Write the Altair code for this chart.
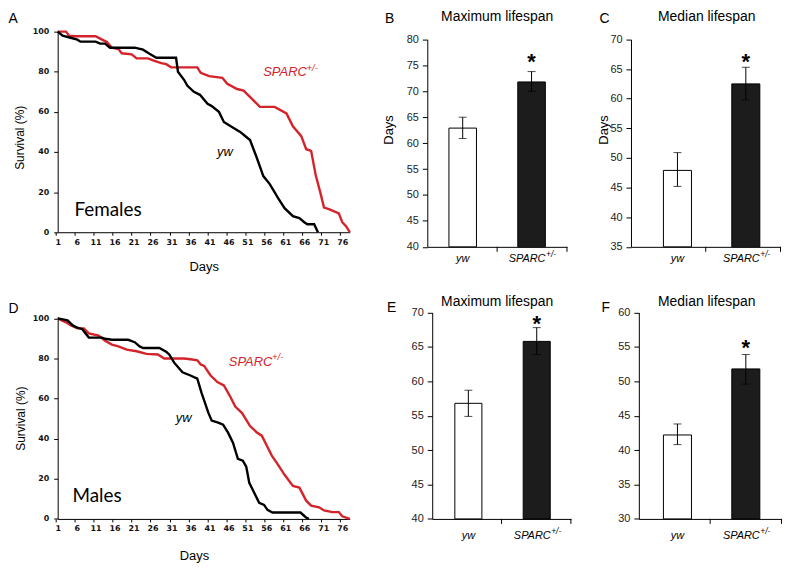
import altair as alt
import pandas as pd

# ---------------- data ----------------
GROUPS = ["yw", "SPARC"]
SUPER = ["", "+/-"]

DAY_TICKS = [1, 6, 11, 16, 21, 26, 31, 36, 41, 46, 51, 56, 61, 66, 71, 76]
SURV_TICKS = [0, 20, 40, 60, 80, 100]

# Females survival
F_YW_DAY = [1, 2.3, 4.9, 6.2, 7, 11, 12.2, 13.5, 14.8, 21.3, 23.5, 25.2, 27, 32.2, 32.7, 34.3, 35.2, 36.9, 38.5,
            40.5, 41.5, 43.5, 44.8, 46.5, 49.1, 50.4, 51.7, 53.5, 55.2, 56.9, 59.1, 60.8, 63, 64.7, 66, 66.8, 68.6, 69.6]
F_YW_SURV = [100, 98, 96.7, 96, 95, 95, 94, 94, 92, 92, 91, 89, 87, 87, 80, 76, 73, 70, 68.5,
             64, 63, 60, 55, 53, 50, 48, 46, 37, 28, 24, 17, 12, 8, 7, 5, 4, 4, 0]
F_SP_DAY = [1, 3.2, 4, 5.8, 11, 12.7, 14, 15.3, 17, 17.9, 20.5, 21.8, 24.8, 26.5, 28.3, 29.6, 30.9, 37.8, 38.7, 40.9,
            44.4, 45.7, 48.3, 50, 52.2, 54.3, 58.2, 61.3, 63, 65.2, 66.5, 67.8, 69, 70.2, 71.2, 72.5, 75.1, 76, 77, 78]
F_SP_SURV = [100, 100, 98, 97.7, 97.7, 96, 94.8, 92, 91.3, 89.2, 88.7, 86.7, 86.7, 85.4, 84.3, 83.8, 82.2, 82.2, 79.5, 77.8,
             77, 74, 71.4, 70.6, 66.5, 62.5, 62.5, 59.2, 52.8, 47.9, 41.4, 40.6, 28.5, 20, 12.3, 11.5, 9.4, 5, 3, 0]

# Males survival
M_YW_DAY = [1, 3.6, 4.9, 6.2, 7.5, 9.2, 12.7, 13.5, 15.3, 19.6, 21.3, 22.6, 23.5, 27.8, 29.6, 30.4, 31.7, 33.9, 36, 37.8,
            38.9, 39.8, 40.7, 41.6, 43.3, 44.6, 45.9, 47.2, 48.5, 49.8, 50.7, 51.5, 52.8, 54.1, 55.4, 56.3, 57.6, 65, 66.3, 67.2]
M_YW_SURV = [100, 99, 96.6, 95.3, 94.6, 90.4, 90.4, 89.8, 89.3, 89.3, 88.1, 86, 85.2, 85.2, 83.3, 82, 77.9, 73.1, 71.5, 69.9,
             63, 58, 53, 49, 48, 47, 43, 38, 30, 29, 26, 18, 13, 8, 7, 4.5, 3.2, 3.2, 1, 0]
M_SP_DAY = [1, 3.2, 4.5, 6.2, 7.9, 9.2, 11.8, 13.5, 15.3, 17, 19.2, 21.8, 24.4, 27.4, 29.1, 34.3, 36, 37.8, 38.7, 39.6,
            41.3, 43.1, 44.8, 46.5, 47.8, 49.6, 51.7, 53.5, 54.8, 56.1, 57.4, 59.1, 60.8, 63, 64.7, 66.5, 67.8, 69.9, 71.2,
            73.4, 75.1, 76, 78]
M_SP_SURV = [100, 98, 96.4, 95, 95, 92.5, 91.4, 88.8, 86.9, 86, 84.4, 83.6, 82.3, 82, 80, 80, 79.6, 79.1, 77, 76.3,
             71.5, 68.2, 66.6, 60.9, 56, 52.8, 46.3, 43.1, 41.5, 36.6, 31.7, 26.9, 22, 16.4, 15.6, 9.1, 6.6, 5.8, 4.2,
             3.4, 3.4, 1.3, 0]

# Lifespan bars (mean, lower error, upper error), order = GROUPS
B_MEAN, B_LO, B_HI = [62.9, 71.8], [60.9, 70.0], [65.0, 73.8]
C_MEAN, C_LO, C_HI = [47.9, 62.5], [45.2, 59.8], [50.9, 65.3]
E_MEAN, E_LO, E_HI = [56.8, 65.8], [54.9, 63.9], [58.7, 67.8]
F_MEAN, F_LO, F_HI = [42.2, 51.8], [40.8, 49.6], [43.8, 53.9]
B_TICKS = [40, 45, 50, 55, 60, 65, 70, 75, 80]
C_TICKS = [35, 40, 45, 50, 55, 60, 65, 70]
E_TICKS = [40, 45, 50, 55, 60, 65, 70]
F_TICKS = [30, 35, 40, 45, 50, 55, 60]

# ---------------- layout (reference pixel geometry -> page) ----------------
SX, SY = 0.99, 0.98


def PX(x):
    return 8 + (x - 3) * SX


def PY(y):
    return 8 + (y - 2) * SY


SP = 10
AX = {"A": (53, 24, 350, 230), "B": (428, 32, 570, 245), "C": (635, 32, 787, 245),
      "D": (53, 318, 350, 524), "E": (433, 312, 574, 524), "F": (643, 312, 788, 524)}
BARS = {"B": (450, 479, 521, 548), "C": (668, 697, 738, 766),
        "E": (456, 484, 526, 553), "F": (668, 697, 738, 766)}
ROWS = ["ABC", "DEF"]

# uniform grid: every column has one x origin and width, every row one y origin and height
COLX = [PX(min(AX[r[c]][0] for r in ROWS)) for c in range(3)]
COLW = [COLX[1] - COLX[0] - SP, COLX[2] - COLX[1] - SP,
        max(PX(AX[r[2]][2]) for r in ROWS) - COLX[2]]
ROWY, ROWH = [], []
for r in ROWS:
    y0 = PY(min(AX[k][1] for k in r)) if not ROWY else ROWY[-1] + ROWH[-1] + SP
    ROWY.append(y0)
    ROWH.append(PY(max(AX[k][3] for k in r)) - y0)

ORG, VW, VH = {}, {}, {}
for ri, r in enumerate(ROWS):
    for ci, k in enumerate(r):
        ORG[k] = (COLX[ci], ROWY[ri])
        VW[k] = COLW[ci]
        VH[k] = ROWH[ri]

RED = "#d5232a"
FONT = "Liberation Sans"
ONE = pd.DataFrame({"k": [0]})
NOVIEW = alt.ViewBackground(stroke="transparent", strokeWidth=0)


def txt(panel, s, x, y, size, align="left", baseline="alphabetic", color="black",
        style="normal", weight="normal", font=FONT, angle=None):
    ox, oy = ORG[panel]
    kw = dict(text=s, fontSize=size, align=align, baseline=baseline, color=color,
              fontStyle=style, fontWeight=weight, font=font)
    if angle is not None:
        kw["angle"] = angle
    return alt.Chart(ONE).mark_text(**kw).encode(x=alt.value(PX(x) - ox), y=alt.value(PY(y) - oy))


def geom(panel):
    """plot-area box of a panel inside its view: left, right, top, bottom"""
    ox, oy = ORG[panel]
    x1, y1, x2, y2 = AX[panel]
    return PX(x1) - ox, PX(x2) - ox, PY(y1) - oy, PY(y2) - oy


def survival(panel, yw_d, yw_s, sp_d, sp_s, texts):
    L, R, T, B = geom(panel)
    h = VH[panel]
    xs = alt.Scale(domain=[1, 78], range=[L, R], nice=False, zero=False)
    ys = alt.Scale(domain=[0, 100], range=[B, T], nice=False, zero=False)
    common = dict(grid=False, domainColor="black", tickColor="black", labelColor="#111",
                  labelFont="DejaVu Sans", labelFontWeight="bold", labelFontSize=8, title=None,
                  format="d", labelOverlap=False, labelFlush=False)
    xa = alt.Axis(values=DAY_TICKS, tickSize=3, labelPadding=3, tickOffset=-2, labelOffset=2,
                  offset=B - h, **common)
    ya = alt.Axis(values=SURV_TICKS, tickSize=4, labelPadding=5, offset=-L, **common)
    red = alt.Chart(pd.DataFrame({"day": sp_d, "surv": sp_s})).mark_line(
        color=RED, strokeWidth=2.4).encode(
        x=alt.X("day:Q", scale=xs, axis=xa), y=alt.Y("surv:Q", scale=ys, axis=ya))
    blk = alt.Chart(pd.DataFrame({"day": yw_d, "surv": yw_s})).mark_line(
        color="black", strokeWidth=2.4).encode(
        x=alt.X("day:Q", scale=xs, axis=xa), y=alt.Y("surv:Q", scale=ys, axis=ya))
    return alt.layer(red, blk, *texts).properties(width=VW[panel], height=h, view=NOVIEW)


def band_scale(panel, L, R):
    ox = ORG[panel][0]
    W = R - L
    l1, r1, l2, r2 = [PX(v) - ox - L for v in BARS[panel]]
    bw = ((r1 - l1) + (r2 - l2)) / 2
    step = ((l2 + r2) - (l1 + r1)) / 2
    p = 1 - bw / step
    o = max(0.0, (W / step - 2 + p) / 2)
    free = W - step * (2 - p)
    a = min(1.0, max(0.0, l1 / free)) if free > 0 else 0.5
    return alt.Scale(domain=GROUPS, range=[L, R], paddingInner=p, paddingOuter=o, align=a)


def bars(panel, mean, lo, hi, yticks, lab_off, star_gap, texts):
    L, R, T, B = geom(panel)
    h = VH[panel]
    xs = band_scale(panel, L, R)
    ys = alt.Scale(domain=[yticks[0], yticks[-1]], range=[B, T], nice=False, zero=False)
    xa = alt.Axis(title=None, labels=False, ticks=False, grid=False, domainColor="black", offset=B - h)
    ya = alt.Axis(values=yticks, title=None, grid=False, tickSize=5, labelPadding=4, labelFont=FONT,
                  labelFontSize=11, labelColor="#222", format="d", domainColor="black", tickColor="black",
                  offset=-L)
    df = pd.DataFrame({"g": GROUPS, "sup": SUPER, "v": mean, "lo": lo, "hi": hi})
    X = alt.X("g:N", scale=xs, axis=xa)
    b = alt.Chart(df).mark_bar(stroke="black", strokeWidth=1).encode(
        x=X, y=alt.Y("v:Q", scale=ys, axis=ya), y2=alt.datum(yticks[0]),
        fill=alt.Fill("g:N", scale=alt.Scale(domain=GROUPS, range=["#ffffff", "#1c1c1c"]), legend=None))
    err = alt.Chart(df).mark_rule(color="black", strokeWidth=1).encode(
        x=X, y=alt.Y("lo:Q", scale=ys, axis=ya), y2="hi:Q")
    cap_lo = alt.Chart(df).mark_tick(color="black", thickness=1, size=8).encode(
        x=X, y=alt.Y("lo:Q", scale=ys, axis=ya))
    cap_hi = alt.Chart(df).mark_tick(color="black", thickness=1, size=8).encode(
        x=X, y=alt.Y("hi:Q", scale=ys, axis=ya))
    ticks = [alt.Chart(ONE).mark_rule(color="black", strokeWidth=1).encode(
        x=alt.value(t), y=alt.value(B), y2=alt.value(B + 5)) for t in ((L + R) / 2, R)]
    ly = B + lab_off * SY
    lab_yw = alt.Chart(df.iloc[[0]]).mark_text(font=FONT, fontSize=11, fontStyle="italic", align="center",
                                               baseline="alphabetic").encode(x=X, y=alt.value(ly), text="g:N")
    lab_sp = alt.Chart(df.iloc[[1]]).mark_text(font=FONT, fontSize=11, fontStyle="italic", align="right",
                                               baseline="alphabetic", dx=14).encode(x=X, y=alt.value(ly), text="g:N")
    lab_sup = alt.Chart(df.iloc[[1]]).mark_text(font=FONT, fontSize=8.5, fontStyle="italic", align="left",
                                                baseline="alphabetic", dx=14.5).encode(x=X, y=alt.value(ly - 5), text="sup:N")
    star = alt.Chart(df.iloc[[1]]).mark_text(text="*", font=FONT, fontSize=22, fontWeight="bold",
                                             baseline="alphabetic", align="center",
                                             dy=12.2 - star_gap * SY).encode(x=X, y=alt.Y("hi:Q", scale=ys, axis=ya))
    return alt.layer(b, err, cap_lo, cap_hi, *ticks, lab_yw, lab_sp, lab_sup, star, *texts).properties(
        width=VW[panel], height=h, view=NOVIEW)


# ---------------- panels ----------------
pA = survival("A", F_YW_DAY, F_YW_SURV, F_SP_DAY, F_SP_SURV, [
    txt("A", "A", 3, 4, 14, baseline="top"),
    txt("A", "Survival (%)", 15, 133, 12, align="center", baseline="middle", angle=270),
    txt("A", "Days", 202, 270, 13, align="center"),
    txt("A", "Females", 70, 213, 19, font="Lato"),
    txt("A", "SPARC", 262, 70, 13, color=RED, style="italic"),
    txt("A", "+/-", 306, 64, 9.5, color=RED, style="italic"),
    txt("A", "yw", 215, 152, 13, style="italic"),
])
pD = survival("D", M_YW_DAY, M_YW_SURV, M_SP_DAY, M_SP_SURV, [
    txt("D", "D", 3, 313, 14),
    txt("D", "Survival (%)", 16, 421, 12, align="center", baseline="middle", angle=270),
    txt("D", "Days", 192, 566, 13, align="center"),
    txt("D", "Males", 68, 507, 19, font="Lato"),
    txt("D", "SPARC", 227, 367, 13, color=RED, style="italic"),
    txt("D", "+/-", 271, 361, 9.5, color=RED, style="italic"),
    txt("D", "yw", 173, 424, 13, style="italic"),
])
pB = bars("B", B_MEAN, B_LO, B_HI, B_TICKS, 16, 15, [
    txt("B", "B", 385, 4, 14, baseline="top"),
    txt("B", "Maximum lifespan", 499, 2, 14, align="center", baseline="top"),
    txt("B", "Days", 389, 125, 13, align="center", baseline="middle", angle=270),
])
pC = bars("C", C_MEAN, C_LO, C_HI, C_TICKS, 16, 11, [
    txt("C", "C", 603, 4, 14, baseline="top"),
    txt("C", "Median lifespan", 712, 2, 14, align="center", baseline="top"),
    txt("C", "Days", 608, 125, 13, align="center", baseline="middle", angle=270),
])
pE = bars("E", E_MEAN, E_LO, E_HI, E_TICKS, 21, 9, [
    txt("E", "E", 387, 311, 14),
    txt("E", "Maximum lifespan", 499, 305, 14, align="center"),
])
pF = bars("F", F_MEAN, F_LO, F_HI, F_TICKS, 21, 12, [
    txt("F", "F", 605, 312, 14),
    txt("F", "Median lifespan", 712, 305, 14, align="center"),
])

chart = alt.concat(pA, pB, pC, pD, pE, pF, columns=3, spacing=SP, bounds="flush", align="none").properties(
    padding=0).configure_view(stroke="transparent", strokeWidth=0).configure(font=FONT)

chart.save("out.html", embed_options={"renderer": "svg", "actions": False})
